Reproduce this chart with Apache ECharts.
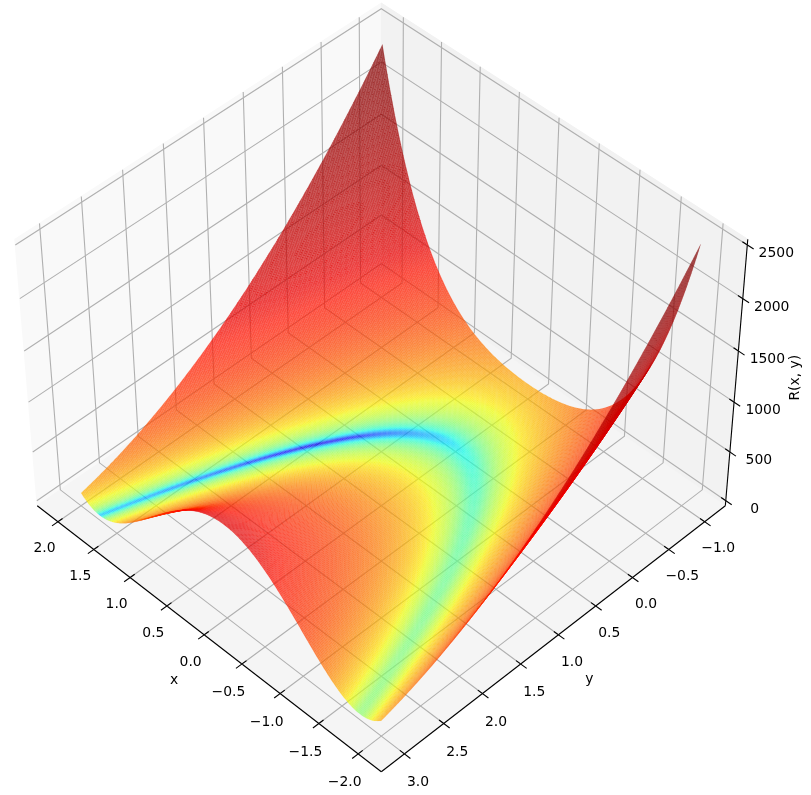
<!DOCTYPE html>
<html><head><meta charset="utf-8">
<style>html,body{margin:0;padding:0;background:#fff}#c{width:811px;height:795px}</style>
<script src="https://cdn.jsdelivr.net/npm/echarts@6/dist/echarts.min.js"></script>
</head><body><div id="c"></div>
<script>
// Surface samples R(x, y): one row per y node, one column per x node.
const xNodes = [-2, -1.5, -1, -0.5, 0, 0.5, 1, 1.5, 2];
const yNodes = [-1, -0.5, 0, 0.5, 1, 1.5, 2, 2.5, 3];
const zAtYm10 = [2509, 1062.5, 404, 158.5, 101, 156.5, 400, 1056.5, 2501];
const zAtYm05 = [2034, 762.5, 229, 58.5, 26, 56.5, 225, 756.5, 2026];
const zAtY00 = [1609, 512.5, 104, 8.5, 1, 6.5, 100, 506.5, 1601];
const zAtY05 = [1234, 312.5, 29, 8.5, 26, 6.5, 25, 306.5, 1226];
const zAtY10 = [909, 162.5, 4, 58.5, 101, 56.5, 0, 156.5, 901];
const zAtY15 = [634, 62.5, 29, 158.5, 226, 156.5, 25, 56.5, 626];
const zAtY20 = [409, 12.5, 104, 308.5, 401, 306.5, 100, 6.5, 401];
const zAtY25 = [234, 12.5, 229, 508.5, 626, 506.5, 225, 6.5, 226];
const zAtY30 = [109, 62.5, 404, 758.5, 901, 756.5, 400, 56.5, 101];
const zRows = [zAtYm10, zAtYm05, zAtY00, zAtY05, zAtY10, zAtY15, zAtY20, zAtY25, zAtY30];

const xTicks = [2, 1.5, 1, 0.5, 0, -0.5, -1, -1.5, -2];
const xTickLabels = ['2.0', '1.5', '1.0', '0.5', '0.0', '\u22120.5', '\u22121.0', '\u22121.5', '\u22122.0'];
const yTicks = [-1, -0.5, 0, 0.5, 1, 1.5, 2, 2.5, 3];
const yTickLabels = ['\u22121.0', '\u22120.5', '0.0', '0.5', '1.0', '1.5', '2.0', '2.5', '3.0'];
const zTicks = [0, 500, 1000, 1500, 2000, 2500];
const zTickLabels = ['0', '500', '1000', '1500', '2000', '2500'];

// View: elevation 45, azimuth 135, perspective, as in the reference.
const XL = [-2.2, 2.2], YL = [-1.2, 3.2], ZL = [0, 2500];
const PX = [-2.2917, 2.2917], PY = [-1.2917, 3.2917], PZ = [-52.08, 2552.08];
const BOX = [4, 4, 3].map(v => v * 1.8294640721620434 / Math.hypot(4, 4, 3));
const DIST = 10, EL = Math.PI / 4, AZ = 3 * Math.PI / 4;
const W = [Math.cos(EL) * Math.cos(AZ), Math.cos(EL) * Math.sin(AZ), Math.sin(EL)];
const U = [-W[1], W[0], 0].map(v => v / Math.hypot(W[0], W[1]));
const V = [W[1] * U[2] - W[2] * U[1], W[2] * U[0] - W[0] * U[2], W[0] * U[1] - W[1] * U[0]];
function view(x, y, z) {
  const p = [(x - XL[0]) / (XL[1] - XL[0]) * BOX[0] - BOX[0] / 2,
             (y - YL[0]) / (YL[1] - YL[0]) * BOX[1] - BOX[1] / 2,
             (z - ZL[0]) / (ZL[1] - ZL[0]) * BOX[2] - BOX[2] / 2];
  const d = DIST - (p[0] * W[0] + p[1] * W[1] + p[2] * W[2]);
  return [(p[0] * U[0] + p[1] * U[1]) / d, (p[0] * V[0] + p[1] * V[1] + p[2] * V[2]) / d, d];
}
const SCALE = 4216, OX = 381.3, OY = 376.7;

// Smooth drawing mesh through the sampled nodes.
const N = 240, MESH_X_END = 1.985;
function weights(nodes, t, count) {
  let s = 0, best = 1e9;
  for (let k = 0; k + count <= nodes.length; k++) {
    const dd = Math.abs((nodes[k] + nodes[k + count - 1]) / 2 - t);
    if (dd < best) { best = dd; s = k; }
  }
  const out = [];
  for (let a = s; a < s + count; a++) {
    let w = 1;
    for (let b = s; b < s + count; b++) if (a !== b) w *= (t - nodes[b]) / (nodes[a] - nodes[b]);
    out.push([a, w]);
  }
  return out;
}
const fineX = [], fineY = [];
for (let i = 0; i <= N; i++) { fineX.push(-2 + (MESH_X_END + 2) * i / N); fineY.push(-1 + 4 * i / N); }
const wx = fineX.map(t => weights(xNodes, t, 5));
const wy = fineY.map(t => weights(yNodes, t, 3));
const mesh = [];
for (let j = 0; j <= N; j++) {
  const row = [];
  for (let i = 0; i <= N; i++) {
    let v = 0;
    wy[j].forEach(([b, wb]) => wx[i].forEach(([a, wa]) => { v += wb * wa * zRows[b][a]; }));
    row.push(view(fineX[i], fineY[j], v).concat(Math.max(v, 0)));
  }
  mesh.push(row);
}
const cells = [];
for (let j = 0; j < N; j++) for (let i = 0; i < N; i++) {
  const q = [mesh[j][i], mesh[j][i + 1], mesh[j + 1][i + 1], mesh[j + 1][i]];
  cells.push([i, j, (q[0][3] + q[1][3] + q[2][3] + q[3][3]) / 4, (q[0][2] + q[1][2] + q[2][2] + q[3][2]) / 4]);
}
cells.sort((a, b) => b[3] - a[3]);

const VMIN = 0.014, VMAX = 2509, ALPHA = 0.73, EDGE_ALPHA = 0.16;
function ramp(t, pts) {
  for (let k = 1; k < pts.length; k++) if (t <= pts[k][0]) {
    const f = (t - pts[k - 1][0]) / (pts[k][0] - pts[k - 1][0]);
    return pts[k - 1][1] + f * (pts[k][1] - pts[k - 1][1]);
  }
  return pts[pts.length - 1][1];
}
function jet(t) {
  const r = ramp(t, [[0, 0], [0.35, 0], [0.66, 1], [0.89, 1], [1, 0.5]]);
  const g = ramp(t, [[0, 0], [0.125, 0], [0.375, 1], [0.64, 1], [0.91, 0], [1, 0]]);
  const b = ramp(t, [[0, 0.5], [0.11, 1], [0.34, 1], [0.65, 0], [1, 0]]);
  return [r, g, b].map(v => Math.round(v * 255));
}
function color(z) {
  const t = Math.min(1, Math.max(0, Math.log(Math.max(z, VMIN) / VMIN) / Math.log(VMAX / VMIN)));
  return jet(t);
}

const FONT = 'DejaVu Sans';
function label(api, text, p, dx, dy, rotation) {
  const c = api.coord(p);
  return { type: 'text', x: c[0] + dx, y: c[1] + dy, rotation: rotation || 0,
    style: { text, fill: '#000', fontFamily: FONT, fontSize: 13.9, align: 'center', verticalAlign: 'middle' } };
}
function line(api, pts, color, width) {
  return { type: 'polyline', shape: { points: pts.map(p => api.coord(view(p[0], p[1], p[2]))) },
    style: { stroke: color, lineWidth: width, fill: null } };
}
function pane(api, pts, fill) {
  const s = pts.map(p => api.coord(view(p[0], p[1], p[2])));
  return { type: 'polygon', shape: { points: s }, style: { fill, stroke: fill, lineWidth: 1 } };
}
const GRID = '#b0b0b0', TICKOUT = 0.075, TICKIN = 0.058;
// Tick labels sit a little further from the axis towards the near corner.
function nearDrop(api, p) { return 26.5 + Math.max(0, api.coord(p)[1] - 520) / 235 * 2.5; }

const option = {
  animation: false,
  backgroundColor: '#fff',
  grid: { left: 0, right: 0, top: 0, bottom: 0 },
  xAxis: { type: 'value', show: false, min: -OX / SCALE, max: (811 - OX) / SCALE },
  yAxis: { type: 'value', show: false, min: -(795 - OY) / SCALE, max: OY / SCALE },
  series: [
    { type: 'custom', name: 'panes', silent: true, z: 1, data: [0], progressive: 0, clip: false,
      renderItem: (p, api) => ({ type: 'group', children: [
        pane(api, [[PX[1], PY[1], PZ[0]], [PX[1], PY[0], PZ[0]], [PX[1], PY[0], PZ[1]], [PX[1], PY[1], PZ[1]]], '#f9f9f9'),
        pane(api, [[PX[1], PY[0], PZ[0]], [PX[0], PY[0], PZ[0]], [PX[0], PY[0], PZ[1]], [PX[1], PY[0], PZ[1]]], '#f2f2f2'),
        pane(api, [[PX[0], PY[0], PZ[0]], [PX[1], PY[0], PZ[0]], [PX[1], PY[1], PZ[0]], [PX[0], PY[1], PZ[0]]], '#f5f5f5'),
        line(api, [[PX[0], PY[1], PZ[0]], [PX[1], PY[1], PZ[0]]], '#000', 1.1),
        line(api, [[PX[0], PY[0], PZ[0]], [PX[0], PY[1], PZ[0]]], '#000', 1.1),
        line(api, [[PX[0], PY[0], PZ[0]], [PX[0], PY[0], PZ[1]]], '#000', 1.1),
        label(api, 'x', view(0, PY[1], PZ[0]), -30, 45.5),
        label(api, 'y', view(PX[0], 1, PZ[0]), 31, 44.5),
        label(api, 'R(x, y)', view(PX[0], PY[0], 1250), 59, 1, Math.PI / 2)
      ] }) },
    { type: 'custom', name: 'x axis', silent: true, z: 2, data: xTicks.map((t, i) => [t, i]), progressive: 0, clip: false,
      renderItem: (p, api) => { const t = api.value(0), at = view(t, PY[1], PZ[0]); return { type: 'group', children: [
        line(api, [[t, PY[1], PZ[0]], [t, PY[0], PZ[0]], [t, PY[0], PZ[1]]], GRID, 1.1),
        line(api, [[t, PY[1] + TICKOUT, PZ[0]], [t, PY[1] - TICKIN, PZ[0]]], '#000', 1.1),
        label(api, xTickLabels[api.value(1)], at, -13.5, nearDrop(api, at))
      ] }; } },
    { type: 'custom', name: 'y axis', silent: true, z: 2, data: yTicks.map((t, i) => [t, i]), progressive: 0, clip: false,
      renderItem: (p, api) => { const t = api.value(0), at = view(PX[0], t, PZ[0]); return { type: 'group', children: [
        line(api, [[PX[0], t, PZ[0]], [PX[1], t, PZ[0]], [PX[1], t, PZ[1]]], GRID, 1.1),
        line(api, [[PX[0] - TICKOUT, t, PZ[0]], [PX[0] + TICKIN, t, PZ[0]]], '#000', 1.1),
        label(api, yTickLabels[api.value(1)], at, 13.5, nearDrop(api, at))
      ] }; } },
    { type: 'custom', name: 'z axis', silent: true, z: 2, data: zTicks.map((t, i) => [t, i]), progressive: 0, clip: false,
      renderItem: (p, api) => { const t = api.value(0); return { type: 'group', children: [
        line(api, [[PX[1], PY[1], t], [PX[1], PY[0], t], [PX[0], PY[0], t]], GRID, 1.1),
        line(api, [[PX[0] - TICKOUT, PY[0], t], [PX[0] + TICKIN, PY[0], t]], '#000', 1.1),
        label(api, zTickLabels[api.value(1)], view(PX[0], PY[0], t), 29, 8.5)
      ] }; } },
    { type: 'custom', name: 'R(x, y)', silent: true, z: 3, data: cells.map(c => [c[0], c[1], c[2]]), progressive: 0, large: false, clip: false,
      renderItem: (p, api) => {
        const i = api.value(0), j = api.value(1), c = color(api.value(2));
        const pts = [mesh[j][i], mesh[j][i + 1], mesh[j + 1][i + 1], mesh[j + 1][i]].map(m => api.coord([m[0], m[1]]));
        return { type: 'polygon', shape: { points: pts },
          style: { fill: `rgba(${c[0]},${c[1]},${c[2]},${ALPHA})`, stroke: `rgba(${c[0]},${c[1]},${c[2]},${EDGE_ALPHA})`, lineWidth: 0.4 } };
      } }
  ]
};
const chart = echarts.init(document.getElementById('c'), null, { renderer: 'canvas' });
chart.setOption(option);
</script></body></html>
